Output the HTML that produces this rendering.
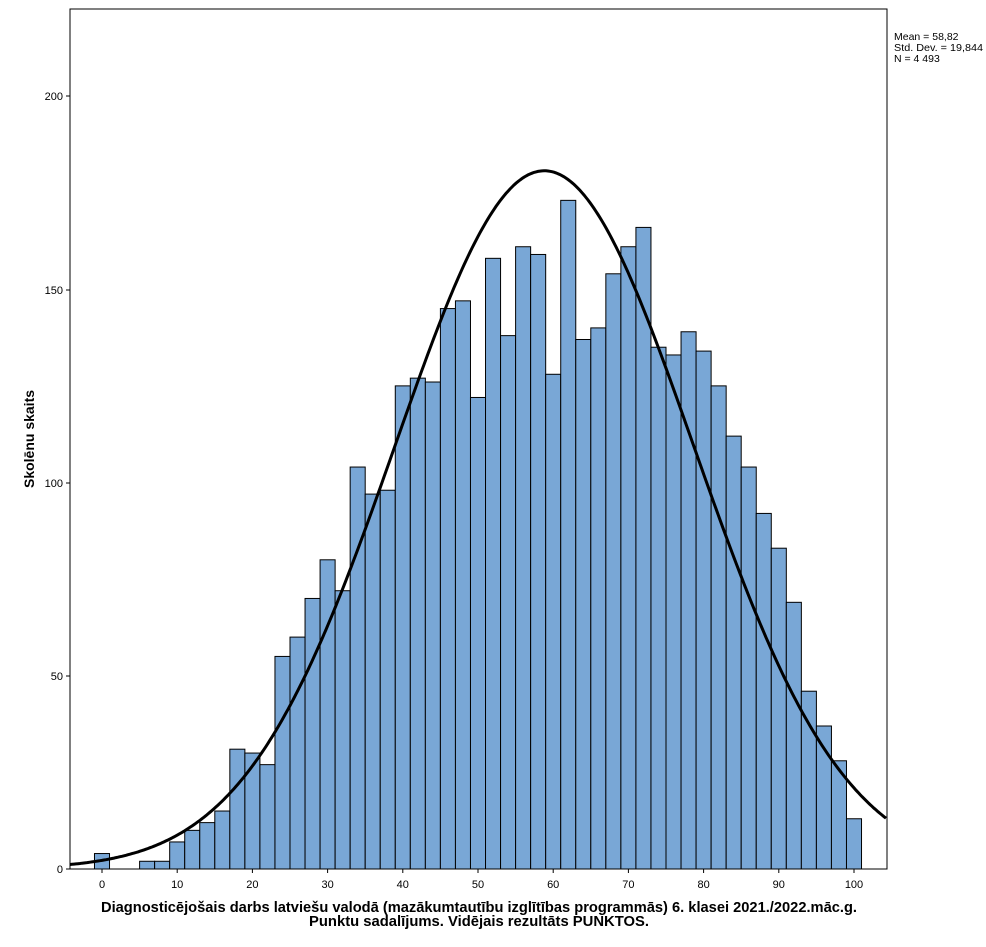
<!DOCTYPE html>
<html><head><meta charset="utf-8"><style>
body{margin:0;background:#fff}
svg{display:block;font-family:"Liberation Sans",Arial,sans-serif}
</style></head><body>
<svg id="s" width="986" height="947" xmlns="http://www.w3.org/2000/svg">
<rect width="986" height="947" fill="#fff"/>
<g id="bars"></g>
<path id="curve" fill="none" stroke="#000" stroke-width="3"/>
<rect x="70" y="9" width="817" height="860" fill="none" stroke="#000" stroke-width="1"/>
<g font-size="11" text-anchor="end">
<text x="63" y="873">0</text>
<text x="63" y="680">50</text>
<text x="63" y="487">100</text>
<text x="63" y="294">150</text>
<text x="63" y="100">200</text>
</g>
<g stroke="#000"><line x1="66" y1="869" x2="70" y2="869"/><line x1="66" y1="676" x2="70" y2="676"/><line x1="66" y1="483" x2="70" y2="483"/><line x1="66" y1="290" x2="70" y2="290"/><line x1="66" y1="96" x2="70" y2="96"/></g>
<g id="xt" font-size="11" text-anchor="middle"></g>
<text transform="translate(34,439) rotate(-90)" font-size="14" font-weight="bold" text-anchor="middle">Skolēnu skaits</text>
<text x="101" y="912" font-size="14.5" font-weight="bold" textLength="756" lengthAdjust="spacingAndGlyphs">Diagnosticējošais darbs latviešu valodā (mazākumtautību izglītības programmās) 6. klasei 2021./2022.māc.g.</text>
<text x="309" y="926" font-size="14.5" font-weight="bold" textLength="340" lengthAdjust="spacingAndGlyphs">Punktu sadalījums. Vidējais rezultāts PUNKTOS.</text>
<g font-size="10.5"><text x="894" y="40">Mean = 58,82</text><text x="894" y="51" textLength="89" lengthAdjust="spacingAndGlyphs">Std. Dev. = 19,844</text><text x="894" y="62">N = 4 493</text></g>
</svg>
<script>
var h=[4,0,0,2,2,7,10,12,15,31,30,27,55,60,70,80,72,104,97,98,125,127,126,145,147,122,158,138,161,159,128,173,137,140,154,161,166,135,133,139,134,125,112,104,92,83,69,46,37,28,13];
var X=function(v){return 102+7.52*v},Y=function(c){return 869-3.865*c};
var g=document.getElementById('bars'),s="";
for(var i=0;i<h.length;i++){if(!h[i])continue;var v=2*i;
s+='<rect x="'+X(v-1)+'" y="'+Y(h[i])+'" width="15.04" height="'+(3.865*h[i])+'" fill="#79a7d6" stroke="#000" stroke-width="1"/>';}
g.innerHTML=s;
var t="";for(var k=0;k<=100;k+=10){t+='<text x="'+X(k)+'" y="888">'+k+'</text><line x1="'+X(k)+'" y1="869" x2="'+X(k)+'" y2="873" stroke="#000"/>';}
document.getElementById('xt').innerHTML=t;
var d="",m=58.82,sd=19.844,A=4493*2/(sd*Math.sqrt(2*Math.PI));
for(var px=70;px<=887;px+=2){var v=(px-102)/7.52;var c=A*Math.exp(-0.5*Math.pow((v-m)/sd,2));d+=(px==70?"M":"L")+px+","+Y(c).toFixed(1);}
document.getElementById('curve').setAttribute('d',d);
</script>
</body></html>
